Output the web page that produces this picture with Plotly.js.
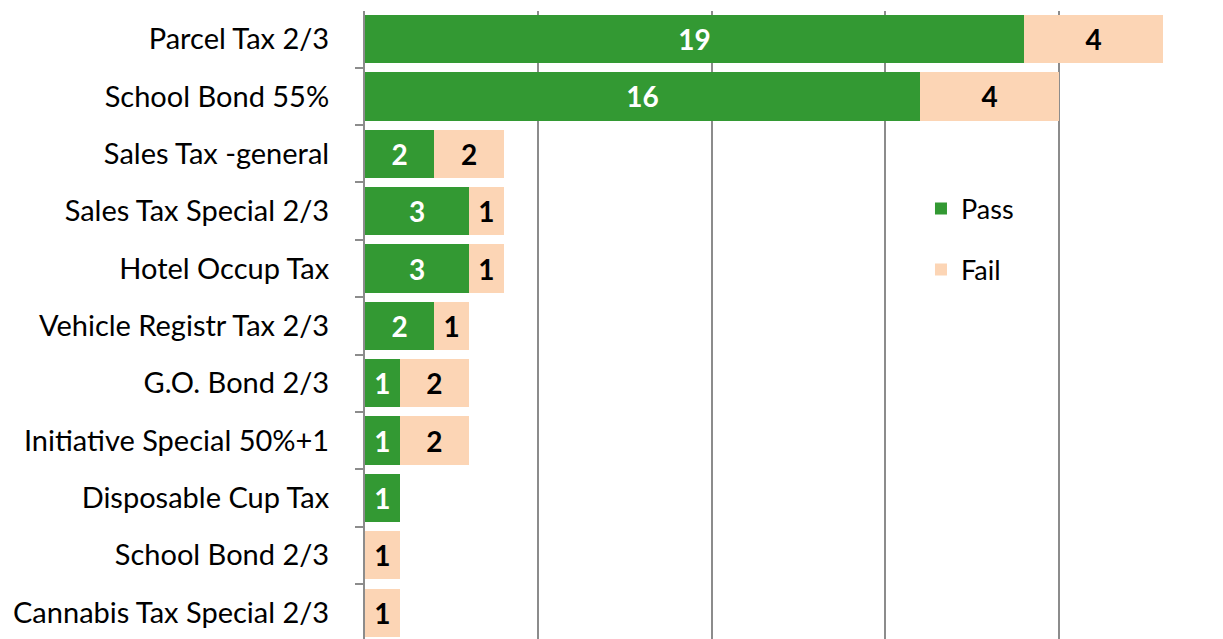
<!DOCTYPE html>
<html>
<head>
<meta charset="utf-8">
<script src="https://cdn.plot.ly/plotly-3.0.1.min.js"></script>
<style>html,body{margin:0;padding:0;background:#fff;}#chart{width:1223px;height:639px;}</style>
</head>
<body>
<div id="chart"></div>
<script>
const categories = ["Parcel Tax 2/3","School Bond 55%","Sales Tax -general","Sales Tax Special 2/3","Hotel Occup Tax","Vehicle Registr Tax 2/3","G.O. Bond 2/3","Initiative Special 50%+1","Disposable Cup Tax","School Bond 2/3","Cannabis Tax Special 2/3"];
const passValues = [19,16,2,3,3,2,1,1,1,0,0];
const failValues = [4,4,2,1,1,1,2,2,0,1,1];

const fontFam = "Lato, 'Open Sans', sans-serif";
const traces = [
  {type:'bar', orientation:'h', name:'Pass', y:categories, x:passValues,
   marker:{color:'#339933'}, legendgroup:'a',
   text:passValues.map(v=>v?String(v):''), textposition:'inside', insidetextanchor:'middle',
   textfont:{color:'#ffffff', size:28, family:fontFam, weight:'bold'}, hoverinfo:'x+name'},
  {type:'bar', orientation:'h', name:'Fail', y:categories, x:failValues,
   marker:{color:'#FCD5B5'}, legendgroup:'b',
   text:failValues.map(v=>v?String(v):''), textposition:'inside', insidetextanchor:'middle',
   textfont:{color:'#000000', size:28, family:fontFam, weight:'bold'}, hoverinfo:'x+name'}
];
const layout = {
  width:1223, height:639,
  margin:{l:365, r:0, t:11, b:0},
  barmode:'stack', bargap:0.16,
  uniformtext:{mode:false},
  paper_bgcolor:'#fff', plot_bgcolor:'#fff',
  font:{family:fontFam, size:29, color:'#000'},
  xaxis:{range:[0,24.73], dtick:5, tick0:0, showticklabels:false, showgrid:true,
         gridcolor:'#8c8c8c', gridwidth:2, zeroline:false, showline:false, ticks:''},
  yaxis:{autorange:false, range:[10.46,-0.49], type:'category', showline:true, linecolor:'#8c8c8c', linewidth:2,
         ticks:'outside', tickson:'boundaries', ticklen:8, tickcolor:'#8c8c8c', tickwidth:2,
         showgrid:false, tickfont:{size:29, family:fontFam, color:'#000'}, ticklabelstandoff:28},
  legend:{x:0.648, y:0.724, xanchor:'left', yanchor:'top', font:{size:27, family:fontFam},
          tracegroupgap:23, traceorder:'grouped', bgcolor:'rgba(0,0,0,0)'},
  showlegend:true
};
Plotly.newPlot('chart', traces, layout, {displayModeBar:false, staticPlot:true});
</script>
</body>
</html>
